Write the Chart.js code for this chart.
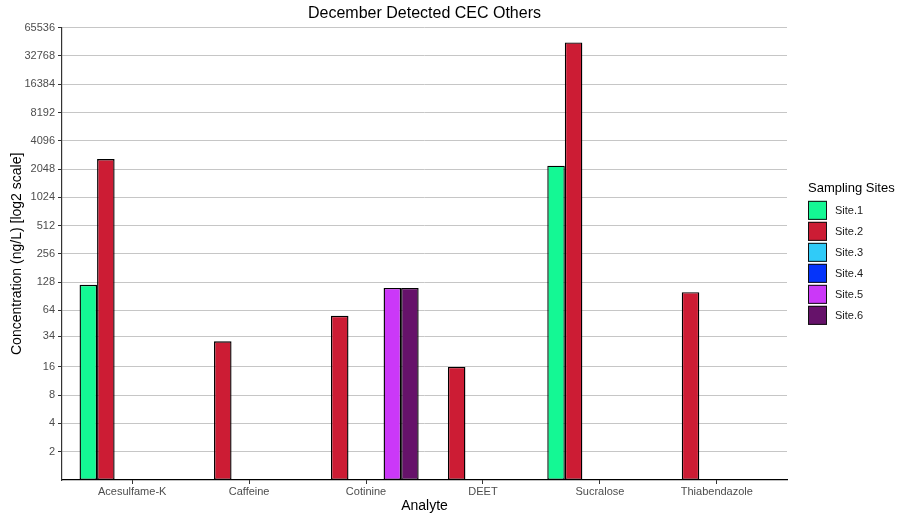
<!DOCTYPE html>
<html>
<head>
<meta charset="utf-8">
<title>December Detected CEC Others</title>
<script src="https://cdn.jsdelivr.net/npm/chart.js@4.4.1/dist/chart.umd.min.js"></script>
<style>
  html, body { margin: 0; padding: 0; background: #fff; }
  #wrap { width: 897px; height: 517px; position: relative; }
</style>
</head>
<body>
<div id="wrap"><canvas id="cec"></canvas></div>
<script>
// analytes on the x axis
const analytes = ['Acesulfame-K', 'Caffeine', 'Cotinine', 'DEET', 'Sucralose', 'Thiabendazole'];

// concentrations (ng/L), null = not detected
const site1 = [120, null, null, null, 2225, null];
const site2 = [2620, 30, 56, 16, 45700, 100];
const site3 = [null, null, null, null, null, null];
const site4 = [null, null, null, null, null, null];
const site5 = [null, null, 111, null, null, null];
const site6 = [null, null, 111, null, null, null];

const siteNames = ['Site.1', 'Site.2', 'Site.3', 'Site.4', 'Site.5', 'Site.6'];
const siteColors = ['#14F894', '#CC1C34', '#30CBF8', '#0534FA', '#CB38F8', '#66126A'];

// log2 axis labels as printed on the original
const yTicks = [2, 4, 8, 16, 34, 64, 128, 256, 512, 1024, 2048, 4096, 8192, 16384, 32768, 65536];

const FONT = "'Liberation Sans', Arial, sans-serif";
const TICK_COLOR = '#4d4d4d';
const GRID = '#c6c6c6';

Chart.defaults.font.family = FONT;
Chart.defaults.color = '#1a1a1a';

const series = [site1, site2, site3, site4, site5, site6];
const datasets = series.map((vals, s) => ({
  label: siteNames[s],
  data: vals.map((v, i) => ({ x: i, y: v })),
  backgroundColor: siteColors[s],
  borderColor: '#000',
  borderWidth: 1.4,
  borderSkipped: false,
}));

// ggplot-style legend to the right of the panel (built-in one clips its title)
const sideLegend = {
  id: 'sideLegend',
  afterDraw(chart) {
    const { ctx, chartArea } = chart;
    const x = chartArea.right + 21;
    const boxTop = (chartArea.top + chartArea.bottom) / 2 - 53;
    const step = 21;
    ctx.save();
    ctx.textBaseline = 'middle';
    ctx.textAlign = 'left';
    ctx.fillStyle = '#000';
    ctx.font = `13px ${FONT}`;
    ctx.fillText('Sampling Sites', x, boxTop - 12);
    ctx.font = `11px ${FONT}`;
    chart.data.datasets.forEach((ds, i) => {
      const y = boxTop + i * step;
      ctx.fillStyle = ds.backgroundColor;
      ctx.fillRect(x, y, 19, 19);
      ctx.strokeStyle = '#111';
      ctx.lineWidth = 1;
      ctx.strokeRect(x + 0.5, y + 0.5, 18, 18);
      ctx.fillStyle = '#1a1a1a';
      ctx.fillText(ds.label, x + 27, y + 10);
    });
    ctx.restore();
  },
};

new Chart(document.getElementById('cec'), {
  type: 'bar',
  data: { datasets },
  plugins: [sideLegend],
  options: {
    responsive: true,
    maintainAspectRatio: false,
    animation: false,
    categoryPercentage: 0.9,
    barPercentage: 1,
    layout: { padding: { left: 0, right: 110, top: 0, bottom: 0 } },
    plugins: {
      title: {
        display: true,
        text: 'December Detected CEC Others',
        fullSize: false,
        color: '#000',
        font: { size: 16, weight: 'normal' },
        padding: { top: 4, bottom: 4.5 },
      },
      legend: { display: false },
      tooltip: { enabled: false },
    },
    scales: {
      x: {
        type: 'linear',
        min: -0.6,
        max: 5.6,
        offset: false,
        afterBuildTicks: (scale) => { scale.ticks = analytes.map((_, i) => ({ value: i })); },
        afterFit: (scale) => { scale.height = 37; },
        grid: { drawOnChartArea: false, drawTicks: true, tickLength: 4, tickColor: '#333', offset: false },
        border: { color: '#000', width: 1.2 },
        ticks: {
          color: TICK_COLOR,
          font: { size: 11 },
          padding: 1,
          maxRotation: 0,
          autoSkip: false,
          callback: (v) => analytes[v] ?? '',
        },
        title: {
          display: true,
          text: 'Analyte',
          color: '#000',
          font: { size: 14 },
          padding: { top: 0, bottom: 2.6 },
        },
      },
      y: {
        type: 'logarithmic',
        min: 1,
        max: 65536,
        afterBuildTicks: (scale) => { scale.ticks = yTicks.map(v => ({ value: v })); },
        afterFit: (scale) => { scale.width = 62; },
        grid: { color: GRID, lineWidth: 1, drawTicks: true, tickLength: 4, tickColor: '#333' },
        border: { color: '#333', width: 1.2 },
        ticks: {
          color: TICK_COLOR,
          font: { size: 11 },
          padding: 3,
          autoSkip: false,
          callback: (v) => String(v),
        },
        title: {
          display: true,
          text: 'Concentration (ng/L) [log2 scale]',
          color: '#000',
          font: { size: 14 },
          padding: { top: 8.6, bottom: 0 },
        },
      },
    },
  },
});
</script>
</body>
</html>
